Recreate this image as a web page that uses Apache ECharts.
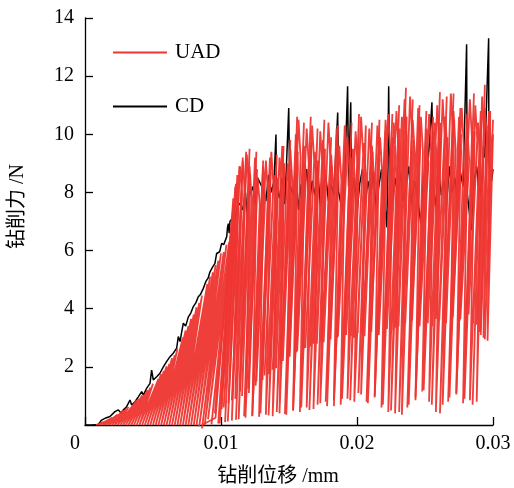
<!DOCTYPE html>
<html>
<head>
<meta charset="utf-8">
<script src="https://cdn.jsdelivr.net/npm/echarts@6/dist/echarts.min.js"></script>
<style>html,body{margin:0;padding:0;background:#fff}#c{width:514px;height:488px}</style>
</head>
<body>
<div id="c"></div>
<script>
// ---- data ----
var xTicks = [0, 0.01, 0.02, 0.03];
var yTicks = [2, 4, 6, 8, 10, 12, 14];

// CD (conventional drilling) force curve
var cdX = [0,0.0005,0.00098,0.00122,0.00147,0.00184,0.0022,0.00245,0.00265,0.00282,0.00306,0.00331,0.00343,0.00368,0.00392,0.00417,0.00429,0.00453,0.00478,0.0049,0.00502,0.00527,0.00551,0.00576,0.006,0.00625,0.00649,0.00674,0.00686,0.00699,0.00711,0.00723,0.0074,0.0076,0.00778,0.00796,0.00815,0.00833,0.0085,0.0087,0.0089,0.00905,0.00919,0.0094,0.00955,0.00968,0.0099,0.01005,0.0102,0.01042,0.01048,0.01054,0.0106,0.01066,0.0108,0.0109,0.011,0.0112,0.0114,0.0116,0.0118,0.01195,0.012,0.01235,0.0125,0.0127,0.0129,
0.0131,0.0133,0.0135,0.0137,0.0139,0.01404,0.01408,0.0143,0.0145,0.0147,0.01498,0.01505,0.0153,0.0155,0.0157,0.0159,0.0161,0.0163,0.0165,0.0167,0.0169,0.0171,0.0173,0.0175,0.0177,0.0179,0.0181,0.0183,0.01858,0.01865,0.0189,0.0191,0.01931,0.01938,0.01954,0.0196,0.0198,0.02,0.0202,0.0204,0.0206,0.0208,0.021,0.0212,0.0214,0.0216,0.0218,0.022,0.0222,0.02233,0.0224,0.0226,0.0228,0.023,0.0232,0.0234,0.0236,0.0238,0.024,0.0242,0.0244,0.0247,0.0249,0.0251,0.02551,0.0256,0.0258,0.026,0.0262,0.0264,0.0266,0.0268,0.027,0.0272,0.0274,0.0276,0.0278,0.02806,0.0281,0.0284,0.0286,0.0288,0.029,0.0292,0.0293,0.0294,0.02968,0.0297,0.0299,0.03];
var cdY = [0,0,0.02,0.17,0.23,0.29,0.46,0.52,0.41,0.52,0.63,0.86,0.69,0.8,0.97,1.15,1.03,1.26,1.43,1.89,1.55,1.66,1.78,2.0,2.18,2.35,2.47,2.64,3.04,2.87,3.2,3.5,3.4,3.72,3.85,4.07,4.2,4.41,4.5,4.7,4.95,5.05,5.27,5.45,5.55,5.9,5.96,6.25,6.2,6.48,6.8,6.93,6.6,7.0,7.1,7.28,7.0,7.5,7.63,7.4,8.0,7.0,7.8,8.2,7.6,8.5,8.3,
8.1,7.7,8.6,8.0,8.4,9.99,8.2,7.8,8.5,7.6,10.9,8.3,7.9,8.7,7.4,8.3,8.0,8.8,7.6,8.4,7.9,8.9,7.5,8.2,8.6,7.7,8.3,7.9,10.75,8.0,7.4,8.6,11.65,8.2,11.1,7.8,8.5,7.3,8.3,8.8,7.6,8.4,7.9,8.7,7.5,8.2,8.8,7.8,6.8,11.65,8.1,7.6,8.5,7.9,8.7,7.7,8.3,8.9,7.6,8.4,8.0,6.9,8.6,8.1,11.1,8.3,7.5,8.8,7.9,8.4,7.7,8.9,8.0,8.5,7.6,8.7,8.2,13.1,8.0,6.7,8.4,8.9,7.8,8.6,9.6,9.2,13.3,9.0,8.4,8.8];

// UAD, first pass: alternating valley / peak of each vibration cycle, in drawing order
var uadX = [
0.0008,0.0018,0.0010,0.0020,0.0012,0.0022,0.0014,0.0024,0.0016,0.0026,0.0018,0.0028,0.0020,0.0030,0.0022,0.0032,
0.0024,0.0036,0.0026,0.0038,0.0028,0.0040,0.0030,0.0042,0.0032,0.0044,0.0034,0.0046,0.0036,0.0048,0.0038,0.0050,
0.0040,0.0054,0.0042,0.0056,0.0044,0.0058,0.0046,0.0060,0.0048,0.0062,0.0050,0.0064,0.0052,0.0066,0.0054,0.0068,
0.0056,0.0072,0.0058,0.0074,0.0060,0.0076,0.0062,0.0078,0.0064,0.0080,0.0066,0.0082,0.0068,0.0084,0.0070,0.0086,
0.0072,0.0090,0.0074,0.0092,0.0076,0.0094,0.0078,0.0096,0.0080,0.0098,0.0082,0.0100,0.0084,0.0102,0.0086,0.0104,
0.0088,0.0106,0.00905,0.01075,0.0093,0.0108,0.00955,0.01085,0.0098,0.0109,0.01005,0.01105,0.0103,0.0112,0.01055,0.01135,0.0108,0.0116,0.01105,0.01185,
0.0113,0.0121,0.01155,0.01215,0.0118,0.0126,0.01205,0.01265,
0.0123,0.0131,0.01255,0.01315,0.0128,0.0136,0.01305,0.01365,
0.0133,0.0141,0.01355,0.01415,0.0138,0.0146,0.01405,0.01465,
0.0143,0.0151,0.01455,0.01515,0.0148,0.0156,0.01505,0.01565,
0.0153,0.0161,0.01555,0.01615,0.0158,0.0166,0.01605,0.01665,
0.0163,0.0171,0.01655,0.01715,0.0168,0.0176,0.01705,0.01765,
0.0173,0.0181,0.01755,0.01815,0.0178,0.0186,0.01805,0.01865,
0.0183,0.0191,0.01855,0.01915,0.0188,0.0196,0.01905,0.01965,
0.0193,0.0201,0.01955,0.02015,0.0198,0.0206,0.02005,0.02065,
0.0203,0.0211,0.02055,0.02115,0.0208,0.0216,0.02105,0.02165,
0.0213,0.0221,0.02155,0.02215,0.0218,0.0226,0.02205,0.02265,
0.0223,0.0231,0.02255,0.02315,0.0228,0.0236,0.02305,0.02365,
0.0233,0.0241,0.02355,0.02415,0.0238,0.0246,0.02405,0.02465,
0.0243,0.0251,0.02455,0.02515,0.0248,0.0256,0.02505,0.02565,
0.0253,0.0261,0.02555,0.02615,0.0258,0.0266,0.02605,0.02665,
0.0263,0.0271,0.02655,0.02715,0.0268,0.0276,0.02705,0.02765,
0.0273,0.0281,0.02755,0.02815,0.0278,0.0286,0.02805,0.02865,
0.0283,0.0291,0.02855,0.02915,0.0288,0.0294,0.02905,0.02955,
0.0293,0.0298,0.0296,0.0300];
var uadY = [
0,0.18,0,0.25,0,0.28,0,0.36,0,0.40,0,0.50,0,0.54,0,0.62,
0,0.72,0,0.85,0,0.90,0,1.02,0,1.06,0,1.20,0,1.28,0,1.42,
0,1.58,0,1.75,0,1.86,0,2.02,0,2.10,0,2.30,0,2.40,0,2.62,
0,3.00,0,3.25,0,3.40,0,3.65,0,3.80,0,4.05,0,4.20,0,4.45,
0,4.85,0,5.10,0,5.25,0,5.50,0,5.65,0,5.90,-0.05,5.95,-0.12,6.20,
0,6.30,0.20,6.45,0.02,6.90,0.40,7.40,0.05,7.80,0.55,8.20,0.10,8.60,0.75,8.90,0.15,9.20,0.90,9.40,
0.20,9.50,1.00,8.60,0.25,9.40,1.10,8.80,
0.30,9.10,1.35,8.40,0.28,9.20,1.55,8.70,
0.35,9.30,1.75,8.50,0.30,9.60,1.95,9.00,
0.40,9.80,2.20,8.80,0.35,10.60,2.35,9.40,
0.50,10.40,2.50,9.00,0.45,10.60,2.60,9.70,
0.60,10.20,2.70,9.10,0.55,10.50,2.80,9.50,
0.75,9.90,2.85,8.90,0.65,10.30,2.95,9.60,
0.85,9.70,3.00,10.30,0.70,10.40,3.10,9.20,
0.90,10.00,3.05,10.70,0.80,9.60,3.15,10.30,
1.05,10.40,3.05,9.40,0.75,9.90,3.20,10.50,
0.95,10.10,3.10,9.50,0.60,10.70,3.30,9.90,
0.45,11.00,3.25,10.20,0.40,11.60,3.40,10.60,
0.35,11.20,3.50,9.80,0.70,11.00,3.60,10.30,
0.85,10.80,3.45,9.60,1.15,10.60,3.55,10.10,
0.80,11.45,3.40,10.40,0.45,11.30,3.60,9.90,
0.70,11.40,3.50,10.50,0.95,10.90,3.70,10.00,
1.05,10.70,3.60,10.40,0.75,11.40,3.75,10.10,
0.85,10.80,3.50,10.60,0.80,11.70,3.20,10.30,
3.00,10.80,2.90,10.00];

// UAD, second overlapping pass of cycles: valley, peak, shoulder after the peak
var uad2X = [0.0086,
0.0096,0.0107,0.01085, 0.0099,0.0109,0.01105, 0.0102,0.0111,0.01125, 0.0105,0.0114,0.01155,
0.0108,0.0116,0.01175, 0.0111,0.0119,0.01205, 0.0114,0.0121,0.01225, 0.0117,0.0125,0.01265,
0.0120,0.0127,0.01285, 0.0123,0.0131,0.01325, 0.0126,0.0133,0.01345, 0.0129,0.0137,0.01385,
0.0132,0.0139,0.01405, 0.0135,0.0143,0.01445, 0.0138,0.0145,0.01465, 0.0141,0.0149,0.01505,
0.0144,0.0151,0.01525, 0.0147,0.0155,0.01565, 0.0150,0.0157,0.01585, 0.0153,0.0161,0.01625,
0.0156,0.0163,0.01645, 0.0159,0.0167,0.01685, 0.0162,0.0169,0.01705, 0.0165,0.0173,0.01745,
0.0168,0.0175,0.01765, 0.0171,0.0179,0.01805, 0.0174,0.0181,0.01825, 0.0177,0.0185,0.01865,
0.0180,0.0187,0.01885, 0.0183,0.0191,0.01925, 0.0186,0.0193,0.01945, 0.0189,0.0197,0.01985,
0.0192,0.0199,0.02005, 0.0195,0.0203,0.02045, 0.0198,0.0205,0.02065, 0.0201,0.0209,0.02105,
0.0204,0.0211,0.02125, 0.0207,0.0215,0.02165, 0.0210,0.0217,0.02185, 0.0213,0.0221,0.02225,
0.0216,0.0223,0.02245, 0.0219,0.0227,0.02285, 0.0222,0.0229,0.02305, 0.0225,0.0233,0.02345,
0.0228,0.0235,0.02365, 0.0231,0.0239,0.02405, 0.0234,0.0241,0.02425, 0.0237,0.0245,0.02465,
0.0240,0.0247,0.02485, 0.0243,0.0251,0.02525, 0.0246,0.0253,0.02545, 0.0249,0.0257,0.02585,
0.0252,0.0259,0.02605, 0.0255,0.0263,0.02645, 0.0258,0.0265,0.02665, 0.0261,0.0269,0.02705,
0.0264,0.0271,0.02725, 0.0267,0.0275,0.02765, 0.0270,0.0277,0.02785, 0.0273,0.0281,0.02825,
0.0276,0.0283,0.02845, 0.0279,0.0287,0.02885, 0.0282,0.0289,0.02905, 0.0285,0.0292,0.02935,
0.0288,0.0294,0.02955, 0.0291,0.0297,0.02985, 0.0294,0.0300];
var uad2Y = [0,
0.25,6.50,5.60, 0.05,7.60,6.70, 0.60,8.30,7.30, 0.12,8.90,7.90,
0.85,9.10,8.00, 0.18,9.30,8.20, 1.15,8.90,7.80, 0.30,9.20,8.10,
1.25,8.50,7.60, 0.32,8.90,7.80, 1.50,9.10,8.00, 0.40,9.40,8.30,
1.70,8.60,7.60, 0.33,9.20,8.00, 1.90,9.60,8.40, 0.45,9.00,7.90,
2.10,9.50,8.30, 0.38,10.00,8.80, 2.35,10.50,9.20, 0.50,9.60,8.50,
2.55,10.20,9.00, 0.60,10.30,9.10, 2.65,9.40,8.30, 0.52,10.10,8.90,
2.80,9.80,8.60, 0.70,10.40,9.10, 2.90,9.30,8.20, 0.80,10.20,9.00,
2.95,9.60,8.40, 0.65,10.30,9.10, 3.05,9.90,8.70, 0.90,9.50,8.40,
3.10,10.10,8.90, 0.85,10.60,9.30, 3.00,9.70,8.50, 1.10,10.20,9.00,
3.15,9.60,8.50, 0.80,10.30,9.10, 3.20,9.90,8.70, 1.00,10.50,9.20,
3.10,10.70,9.40, 0.70,10.40,9.20, 3.30,10.80,9.50, 0.50,10.60,9.30,
3.35,11.20,9.90, 0.45,11.30,10.00, 3.50,10.50,9.30, 0.60,10.90,9.60,
3.55,10.60,9.40, 0.95,10.20,9.00, 3.40,10.70,9.40, 1.20,10.40,9.20,
3.50,11.00,9.70, 0.70,11.20,9.90, 3.65,10.60,9.30, 0.40,11.40,10.10,
3.55,10.80,9.50, 0.80,10.60,9.40, 3.75,10.90,9.60, 1.10,10.30,9.10,
3.65,11.20,9.90, 0.90,11.00,9.70, 3.80,10.40,9.20, 0.70,11.30,10.00,
3.45,10.90,9.70, 3.10,10.80,9.60, 2.95,10.50];

function zip(a, b) { var o = []; for (var i = 0; i < a.length; i++) o.push([a[i], b[i]]); return o; }

var FONT = '"Liberation Serif", "Times New Roman", "Noto Sans CJK SC", serif';
var RED = '#ee3530';
var chart = echarts.init(document.getElementById('c'), null, { renderer: 'canvas' });
chart.setOption({
  animation: false,
  backgroundColor: '#fff',
  grid: { left: 85, right: 21, top: 18, bottom: 63, containLabel: false, outerBoundsMode: 'none' },
  legend: {
    orient: 'vertical', left: 108, top: 37, itemWidth: 54, itemHeight: 2, itemGap: 33,
    icon: 'rect', data: ['UAD', 'CD'],
    textStyle: { fontFamily: FONT, fontSize: 21, lineHeight: 20, color: '#000', padding: [0, 0, 0, 3] }
  },
  xAxis: {
    type: 'value', min: xTicks[0], max: xTicks[xTicks.length - 1], interval: 0.01,
    name: '钻削位移 /mm', nameLocation: 'middle', nameGap: 42,
    nameTextStyle: { fontFamily: FONT, fontSize: 20, color: '#000', padding: [0, 22, 0, 0] },
    axisLine: { show: true, lineStyle: { color: '#000', width: 1.3 } },
    axisTick: { show: true, inside: true, length: 8, lineStyle: { color: '#000', width: 1.3 } },
    splitLine: { show: false },
    axisLabel: {
      margin: 9, color: '#000', fontFamily: FONT, fontSize: 20,
      formatter: function (v) { var t = +v.toFixed(3); return t === 0 ? '{o|0}' : String(t); },
      rich: { o: { fontFamily: FONT, fontSize: 20, color: '#000', padding: [0, 20, 0, 0] } }
    }
  },
  yAxis: {
    type: 'value', min: 0, max: yTicks[yTicks.length - 1], interval: 2,
    name: '钻削力 /N', nameLocation: 'middle', nameGap: 57,
    nameTextStyle: { fontFamily: FONT, fontSize: 20, color: '#000', padding: [0, 0, 0, 30] },
    axisLine: { show: true, lineStyle: { color: '#000', width: 1.3 } },
    axisTick: { show: true, inside: true, length: 8, lineStyle: { color: '#000', width: 1.3 } },
    splitLine: { show: false },
    axisLabel: { margin: 11, color: '#000', fontFamily: FONT, fontSize: 20, showMinLabel: false }
  },
  series: [
    { name: 'CD', type: 'line', data: zip(cdX, cdY), showSymbol: false, symbol: 'none',
      lineStyle: { color: '#000', width: 1.5 }, itemStyle: { color: '#000' }, z: 2 },
    { name: 'UAD', type: 'line', data: zip(uadX, uadY), showSymbol: false, symbol: 'none', clip: false,
      lineStyle: { color: RED, width: 1.8, opacity: 0.95 }, itemStyle: { color: RED }, z: 3 },
    { name: 'UAD', type: 'line', data: zip(uad2X, uad2Y), showSymbol: false, symbol: 'none', clip: false,
      lineStyle: { color: RED, width: 1.8, opacity: 0.95 }, itemStyle: { color: RED }, z: 3 }
  ]
});
</script>
</body>
</html>
